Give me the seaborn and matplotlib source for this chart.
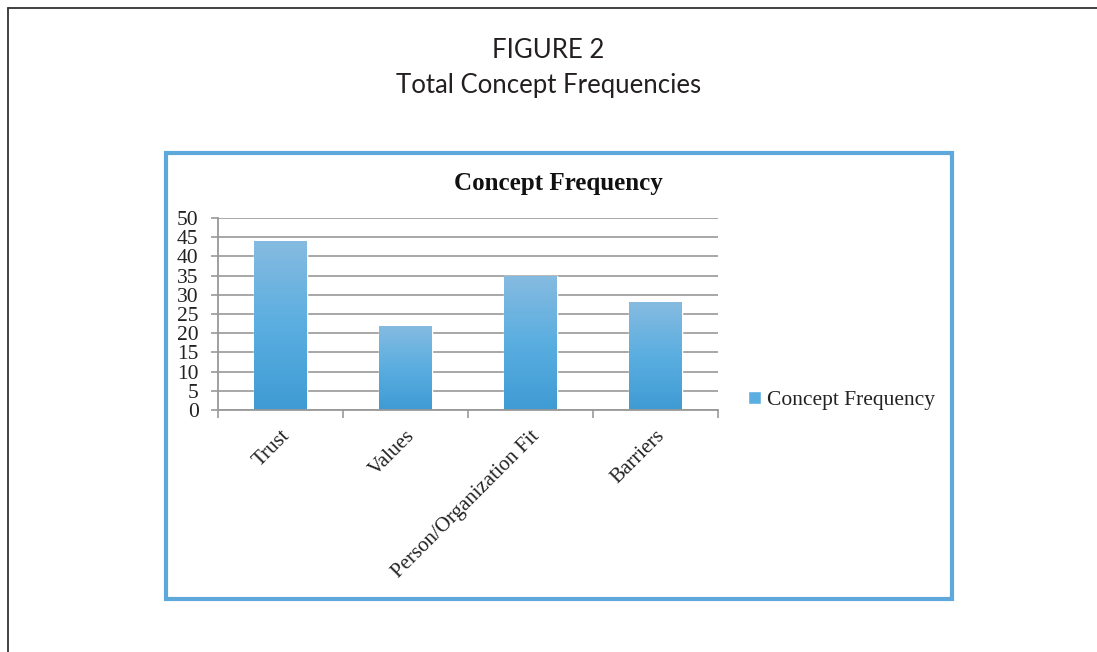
import numpy as np
import pandas as pd
import matplotlib
matplotlib.use("Agg")
import matplotlib.pyplot as plt
import matplotlib.transforms as mtransforms
from matplotlib.colors import LinearSegmentedColormap
from matplotlib.lines import Line2D
from matplotlib.patches import Rectangle
import seaborn as sns

# data
concepts = ["Trust", "Values", "Person/Organization Fit", "Barriers"]
frequency = [44, 22, 35, 28]
y_ticks = [0, 5, 10, 15, 20, 25, 30, 35, 40, 45, 50]

df = pd.DataFrame({"concept": concepts, "freq": frequency})

sns.set_theme(style="white")
plt.rcParams["font.family"] = ["Liberation Serif", "DejaVu Serif"]

W, H = 1097, 652
fig = plt.figure(figsize=(W / 100, H / 100), dpi=100)

def fx(px):
    return px / W

def fy(py):
    return 1 - py / H

# outer page frame (top + left)
fig.add_artist(Line2D([fx(8), 1.0], [fy(8), fy(8)], color="#333333", lw=1.3))
fig.add_artist(Line2D([fx(8), fx(8)], [fy(8), 0.0], color="#333333", lw=1.3))

# blue chart frame
fig.add_artist(Rectangle((fx(166), fy(599)), fx(952) - fx(166), fy(153) - fy(599),
                         fill=False, edgecolor="#5fa8dc", lw=3))

fig.text(0.5, fy(50), "FIGURE 2", ha="center", va="center",
         fontsize=18.5, family=["Lato", "DejaVu Sans"], color="#231f20")
fig.text(0.5, fy(86), "Total Concept Frequencies", ha="center", va="center",
         fontsize=18.5, family=["Lato", "DejaVu Sans"], color="#231f20")
fig.text(fx(558), fy(183), "Concept Frequency", ha="center", va="center",
         fontsize=18, fontweight="bold", color="#111111")

ax = fig.add_axes([fx(218), fy(410), fx(718) - fx(218), fy(218) - fy(410)])

base = "#5aaee0"
sns.barplot(data=df, x="concept", y="freq", color=base, width=0.42,
            ax=ax, label="Concept Frequency", saturation=1)

# vertical gradient inside each bar
grad = LinearSegmentedColormap.from_list("g", ["#3f9bd4", "#5aaee0", "#86bbe1"])
g = np.linspace(0, 1, 256).reshape(-1, 1)
for p in ax.patches:
    x0, y0 = p.get_x(), p.get_y()
    w, h = p.get_width(), p.get_height()
    im = ax.imshow(g, cmap=grad, origin="lower", aspect="auto",
                   extent=[x0, x0 + w, y0, y0 + h], zorder=p.get_zorder() + 0.1)
    im.set_clip_path(p)

ax.set_xlim(-0.5, 3.5)
ax.set_ylim(0, 50)
ax.set_yticks(y_ticks)
ax.set_xticks([-0.5, 0.5, 1.5, 2.5, 3.5], minor=False)
ax.set_xticklabels([])
ax.set_xticks([0, 1, 2, 3], minor=True)
ax.set_xticklabels(concepts, minor=True, rotation=45, ha="right",
                   rotation_mode="anchor", fontsize=15, color="#222222")
shift = mtransforms.ScaledTranslation(-6 / 100, 0, fig.dpi_scale_trans)
for lab in ax.get_xticklabels(minor=True):
    lab.set_transform(lab.get_transform() + shift)
ax.tick_params(axis="x", which="minor", length=0, pad=12)
ax.tick_params(axis="x", which="major", length=6, width=1.2, color="#999999",
               direction="out", bottom=True)
ax.tick_params(axis="y", length=5, width=1.2, color="#999999", direction="out",
               left=True, labelsize=15.5, labelcolor="#222222", pad=9)

ax.yaxis.grid(True, color="#a0a0a0", lw=1.3)
ax.set_axisbelow(True)
for s in ["top", "right"]:
    ax.spines[s].set_visible(False)
for s in ["left", "bottom"]:
    ax.spines[s].set_color("#999999")
    ax.spines[s].set_linewidth(1.3)
ax.set_xlabel("")
ax.set_ylabel("")

leg = ax.legend(loc="center left", bbox_to_anchor=(1.021, 0.05), frameon=False,
                fontsize=15.5, handlelength=0.6, handleheight=0.6, handletextpad=0.3)
for t in leg.get_texts():
    t.set_color("#222222")

fig.savefig("out.png", dpi=100)
